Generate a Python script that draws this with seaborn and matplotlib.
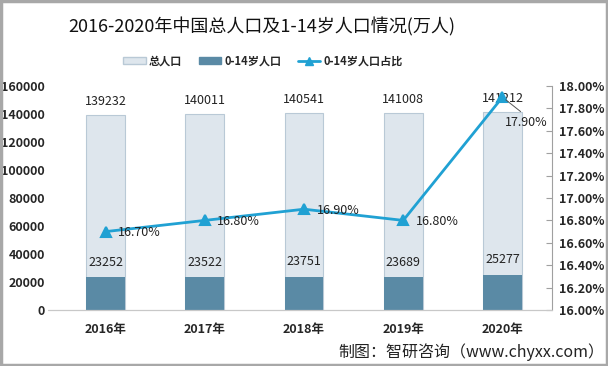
import matplotlib
matplotlib.use("Agg")
import matplotlib.pyplot as plt
import matplotlib.patches as mpatches
from matplotlib.lines import Line2D
from matplotlib.ticker import FuncFormatter
import seaborn as sns

years = ["2016年", "2017年", "2018年", "2019年", "2020年"]
total_pop = [139232, 140011, 140541, 141008, 141212]
child_pop = [23252, 23522, 23751, 23689, 25277]
child_ratio = [16.70, 16.80, 16.90, 16.80, 17.90]

sns.set_style("white")
plt.rcParams["font.family"] = ["Noto Sans CJK SC", "DejaVu Sans"]
plt.rcParams["axes.unicode_minus"] = False

c_total = "#dee6ed"
c_total_edge = "#b9c9d6"
c_child = "#5a8aa5"
c_line = "#20a1d3"

fig = plt.figure(figsize=(6.08, 3.66), dpi=100)
ax = fig.add_axes([0.092, 0.153, 0.816, 0.612])

sns.barplot(x=years, y=total_pop, ax=ax, color=c_total, width=0.39,
            edgecolor=c_total_edge, linewidth=0.8, saturation=1)
sns.barplot(x=years, y=child_pop, ax=ax, color=c_child, width=0.39,
            linewidth=0, saturation=1)

ax.set_ylim(0, 160000)
ax.set_yticks(range(0, 160001, 20000))
ax.set_xlim(-0.5, 4.5)
for s in ["top", "right", "left", "bottom"]:
    ax.spines[s].set_visible(False)
ax.tick_params(axis="y", length=0, labelsize=9, pad=8)
ax.tick_params(axis="x", length=0, labelsize=9, pad=9)
for lab in ax.get_xticklabels() + ax.get_yticklabels():
    lab.set_fontweight("bold")

# zero line (starts a bit left of the plot area, like the original)
fig.add_artist(Line2D([0.079, 0.908], [0.153, 0.153], transform=fig.transFigure,
                      color="#c8c8c8", lw=0.9))

for i, (t, c) in enumerate(zip(total_pop, child_pop)):
    ax.annotate(str(t), (i, t), xytext=(0, 5), textcoords="offset points",
                ha="center", va="bottom", fontsize=9, color="#222222")
    ax.annotate(str(c), (i, c), xytext=(0, 6), textcoords="offset points",
                ha="center", va="bottom", fontsize=9, color="#222222")

ax2 = ax.twinx()
sns.pointplot(x=years, y=child_ratio, ax=ax2, color=c_line, markers="^",
              linestyles="-", errorbar=None, markersize=7, linewidth=2)
ax2.set_ylim(16.0, 18.0)
ax2.set_xlim(-0.5, 4.5)
ax2.set_yticks([16.0 + 0.2 * k for k in range(11)])
ax2.yaxis.set_major_formatter(FuncFormatter(lambda v, p: f"{v:.2f}%"))
ax2.set_ylabel("")
ax2.set_xlabel("")
for s in ["top", "left", "bottom"]:
    ax2.spines[s].set_visible(False)
ax2.spines["right"].set_color("#a0a0a0")
ax2.spines["right"].set_linewidth(0.8)
ax2.tick_params(axis="y", direction="in", length=4, color="#a0a0a0",
                labelsize=9, pad=5)
for lab in ax2.get_yticklabels():
    lab.set_fontweight("bold")

for i, r in enumerate(child_ratio[:-1]):
    ax2.annotate(f"{r:.2f}%", (i, r), xytext=(9, -1), textcoords="offset points",
                 ha="left", va="center", fontsize=9, color="#222222")
ax2.annotate(f"{child_ratio[-1]:.2f}%", (4, child_ratio[-1]), xytext=(1.5, -18),
             textcoords="offset points", ha="left", va="center", fontsize=9,
             color="#222222",
             arrowprops=dict(arrowstyle="-", color="#555555", lw=0.7,
                             relpos=(0.5, 1.0), shrinkA=1, shrinkB=3))

fig.text(0.43, 0.926, "2016-2020年中国总人口及1-14岁人口情况(万人)",
         ha="center", va="center", fontsize=13, color="#111111")

handles = [
    mpatches.Patch(facecolor=c_total, edgecolor=c_total_edge, label="总人口"),
    mpatches.Patch(facecolor=c_child, edgecolor=c_child, label="0-14岁人口"),
    Line2D([0], [0], color=c_line, lw=2, marker="^", markersize=6,
           label="0-14岁人口占比"),
]
leg = fig.legend(handles=handles, loc="center", bbox_to_anchor=(0.433, 0.834),
                 ncol=3, frameon=False, fontsize=8, handlelength=2.0,
                 handleheight=0.6, columnspacing=1.5, handletextpad=0.3)
for t in leg.get_texts():
    t.set_fontweight("bold")

fig.text(0.994, 0.038, "制图：智研咨询（www.chyxx.com）", ha="right",
         va="center", fontsize=11.5, color="#222222")

fig.patches.append(mpatches.Rectangle((0.002, 0.003), 0.996, 0.994,
                                      transform=fig.transFigure, fill=False,
                                      edgecolor="#a8a8a8", linewidth=2.5))

fig.savefig("out.png", dpi=100)
